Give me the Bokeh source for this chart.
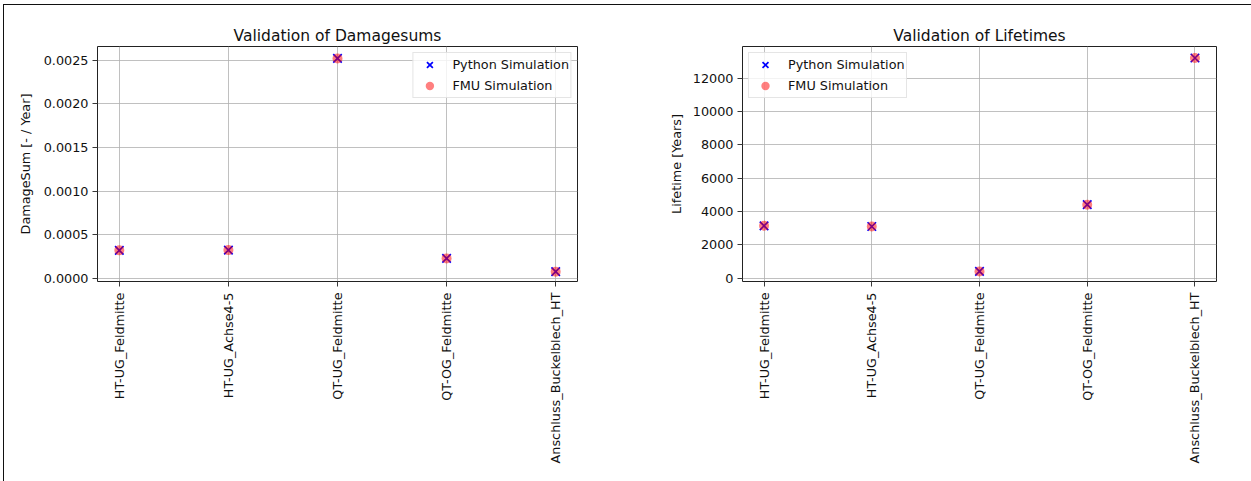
import math
from bokeh.plotting import figure
from bokeh.models import FixedTicker, Legend, LegendItem, NumeralTickFormatter, Div
from bokeh.layouts import row
from bokeh.embed import file_html
from bokeh.resources import INLINE

# ---- data ----
categories = ["HT-UG_Feldmitte", "HT-UG_Achse4-5", "QT-UG_Feldmitte",
              "QT-OG_Feldmitte", "Anschluss_Buckelblech_HT"]
damage_python = [0.000320, 0.000323, 0.002520, 0.000228, 0.0000760]
damage_fmu = [0.000320, 0.000323, 0.002520, 0.000228, 0.0000760]
lifetime_python = [3130, 3090, 395, 4400, 13200]
lifetime_fmu = [3130, 3090, 395, 4400, 13200]
damage_ticks = [0.0, 0.0005, 0.0010, 0.0015, 0.0020, 0.0025]
lifetime_ticks = [0, 2000, 4000, 6000, 8000, 10000, 12000]

FONT = "DejaVu Sans"
TXT = "#111111"


def make_fig(title, ylabel, py, fmu, yrange, yticks, fmt, width, height,
             bl, br, bt, bb, legend_loc, ylabel_standoff):
    xs = list(range(len(categories)))
    p = figure(width=width, height=height, x_range=(-0.2, len(categories) - 0.8),
               y_range=yrange, output_backend="svg", toolbar_location=None,
               min_border_left=bl, min_border_right=br, min_border_top=bt,
               min_border_bottom=bb, background_fill_color="white",
               border_fill_color="white")
    p.title.text = title
    p.title.align = "center"
    p.title.text_font = FONT
    p.title.text_font_size = "15.5px"
    p.title.text_font_style = "normal"
    p.title.text_color = TXT
    p.title.standoff = 4

    p.xaxis.ticker = FixedTicker(ticks=xs)
    p.xaxis.major_label_overrides = {i: c for i, c in zip(xs, categories)}
    p.xaxis.major_label_orientation = math.pi / 2
    p.xaxis.major_label_standoff = 6
    p.yaxis.ticker = FixedTicker(ticks=yticks)
    p.yaxis.formatter = NumeralTickFormatter(format=fmt)
    p.yaxis.major_label_standoff = 4
    p.yaxis.axis_label = ylabel
    p.yaxis.axis_label_standoff = ylabel_standoff

    for ax in p.axis:
        ax.major_label_text_font = FONT
        ax.major_label_text_font_size = "12.8px"
        ax.major_label_text_color = TXT
        ax.axis_label_text_font = FONT
        ax.axis_label_text_font_size = "12.8px"
        ax.axis_label_text_font_style = "normal"
        ax.axis_label_text_color = TXT
        ax.minor_tick_line_color = None
        ax.major_tick_in = 0
        ax.major_tick_out = 5
        ax.major_tick_line_color = "#222222"
        ax.major_tick_line_width = 0.9
        ax.axis_line_color = None

    p.grid.grid_line_color = "#b0b0b0"
    p.grid.grid_line_width = 0.8
    p.outline_line_color = "#222222"
    p.outline_line_width = 1
    p.outline_line_alpha = 1

    r1 = p.scatter(xs, py, marker="x", size=12, line_color="blue", line_width=1.7)
    r2 = p.scatter(xs, fmu, marker="circle", size=10, fill_color="red",
                   fill_alpha=0.5, line_color=None)

    legend = Legend(items=[LegendItem(label="Python Simulation", renderers=[r1]),
                           LegendItem(label="FMU Simulation", renderers=[r2])],
                    location=legend_loc)
    legend.label_text_font = FONT
    legend.label_text_font_size = "12.8px"
    legend.label_text_color = TXT
    legend.glyph_width = 30
    legend.glyph_height = 21
    legend.label_height = 20
    legend.label_standoff = 8
    legend.padding = 1
    legend.spacing = 0
    legend.margin = 6
    legend.border_line_color = "#cccccc"
    legend.border_line_width = 1
    legend.background_fill_alpha = 0.8
    p.add_layout(legend)
    return p


p1 = make_fig("Validation of Damagesums", "DamageSum [- / Year]",
              damage_python, damage_fmu, (-0.000037, 0.002657), damage_ticks,
              "0.0000", 660, 476, 97, 83, 46, 190, "top_right", 8)
p2 = make_fig("Validation of Lifetimes", "Lifetime [Years]",
              lifetime_python, lifetime_fmu, (-210, 13890), lifetime_ticks,
              "0", 583, 476, 82, 27, 45, 195, "top_left", 6)

frame_lines = Div(
    text='<div style="position:fixed;left:3px;top:4px;width:2000px;height:1px;background:#111"></div>'
         '<div style="position:fixed;left:3px;top:4px;width:1px;height:2000px;background:#111"></div>',
    width=1, height=1)

layout = row(p1, p2, frame_lines)

open("out.html", "w").write(file_html(layout, INLINE))
